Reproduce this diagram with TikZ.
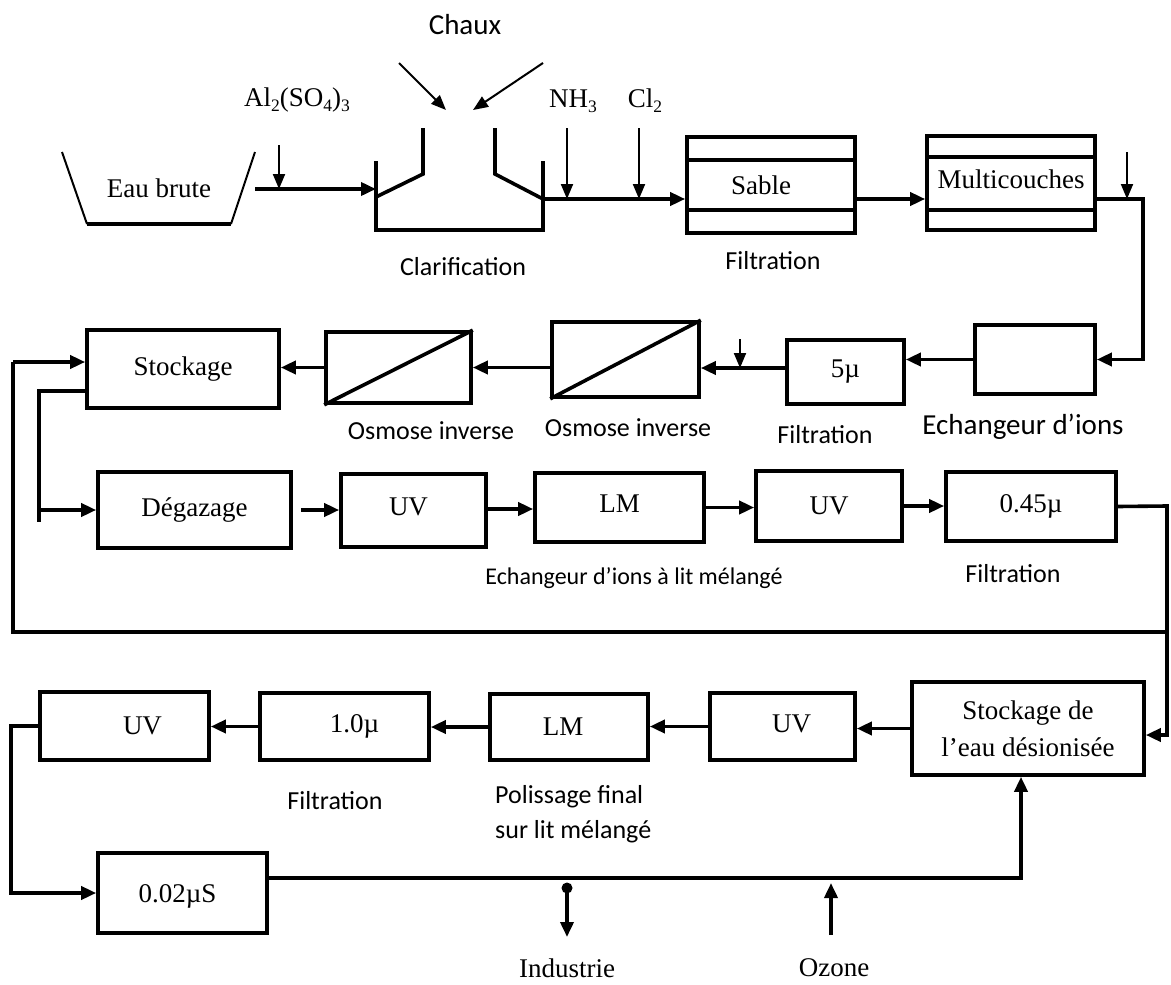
\documentclass[tikz,border=0pt]{standalone}
\usepackage{fontspec}
\setmainfont{Liberation Serif}
\newfontfamily\calfont{Carlito}
\usetikzlibrary{arrows.meta}
\newcommand{\chemsub}[1]{\raisebox{-5pt}{\fontsize{17.5}{17.5}\selectfont #1}}
\begin{document}
\begin{tikzpicture}[x=1pt,y=-1pt,
  tk/.style={line width=3.6pt},
  tn/.style={line width=2pt},
  arr/.style={tk,-{Triangle[length=15pt,width=13pt]}},
  tarr/.style={tn,-{Triangle[length=15pt,width=12pt]}},
  tx/.style={font=\fontsize{27}{32}\selectfont,inner sep=0pt},
  box/.style={draw,tk,inner sep=0pt,font=\fontsize{27}{32}\selectfont},
  lab/.style={font=\calfont\fontsize{26}{31}\selectfont,inner sep=0pt},
  labbig/.style={font=\calfont\fontsize{29}{35}\selectfont,inner sep=0pt},
]
\useasboundingbox (0,0) rectangle (1171,985);

% ---- Eau brute basin
\draw[tn] (62,152) -- (87,224);
\draw[tk] (87,224) -- (231,224);
\draw[tn] (231,224) -- (255,152);
\node[tx] (eau) at (159,188) {Eau brute};
\coordinate (eauout) at (255,189);

% ---- Al2(SO4)3
\node[tx] (al) at (297,100) {Al\chemsub{2}(SO\chemsub{4})\chemsub{3}};
\coordinate (alt) at (279,145);

% ---- Clarifier
\draw[tk] (376,161) -- (376,232);
\draw[tk] (374.2,230) -- (544.8,230);
\draw[tk] (543,161) -- (543,232);
\draw[tk] (376,197) -- (423,174) -- (423,128);
\draw[tk] (495,128) -- (495,174) -- (543,199);
\coordinate (clin) at (376,189);
\coordinate (clout) at (543,199);
\draw[arr] (eauout) -- (clin);
\draw[tarr] (alt) -- (alt |- eauout);
\node[lab] (clar) at (463,267) {Clarification};

% ---- Chaux
\node[labbig] (chaux) at (465,25) {Chaux};
\coordinate (ch1) at (399,63);
\coordinate (ch1e) at (446,110);
\coordinate (ch2) at (543,63);
\coordinate (ch2e) at (473,110);
\draw[tarr] (ch1) -- (ch1e);
\draw[tarr] (ch2) -- (ch2e);

% ---- NH3, Cl2
\node[tx] (nh3) at (573,101) {NH\chemsub{3}};
\node[tx] (cl2) at (645,101) {Cl\chemsub{2}};
\coordinate (nht) at (567,128);
\coordinate (clt) at (639,128);

% ---- Sable filter
\node[box,minimum width=168pt,minimum height=96pt,
      label={[tx,xshift=-10pt]center:Sable}] (sable) at (771,185) {};
\draw[tk] (sable.west |- 0,160) -- (sable.east |- 0,160);
\draw[tk] (sable.west |- 0,210) -- (sable.east |- 0,210);
\draw[arr] (clout) -- (clout -| sable.west);
\draw[tarr] (nht) -- (nht |- clout);
\draw[tarr] (clt) -- (clt |- clout);
\node[lab] (f1) at (773,261) {Filtration};

% ---- Multicouches
\node[box,minimum width=168pt,minimum height=94pt,
      label={[tx,yshift=4pt]center:Multicouches}] (multi) at (1011,183) {};
\draw[tk] (multi.west |- 0,157) -- (multi.east |- 0,157);
\draw[tk] (multi.west |- 0,210) -- (multi.east |- 0,210);
\draw[arr] (sable.east |- clout) -- (multi.west |- clout);

% ---- Echangeur d'ions
\node[box,minimum width=120pt,minimum height=69pt] (ech) at (1035,359.5) {};
\node[labbig] (echl) at (1023,427) {Echangeur d’ions};
\coordinate (rc) at (1143,199);
\draw[arr] (multi.east |- clout) -- (rc) |- (ech.east);
\coordinate (mt) at (1127,152);
\draw[tarr] (mt) -- (mt |- clout);

% ---- 5 micron
\node[box,minimum width=117pt,minimum height=64pt] (fiv) at (845.5,372) {5µ};
\node[lab] (f2) at (825,435) {Filtration};
\draw[arr] (ech.west) -- (ech.west -| fiv.east);

% ---- Osmose inverse 2
\node[box,minimum width=147pt,minimum height=75pt] (osm2) at (625.5,359.5) {};
\draw[tk] (osm2.south west) -- (osm2.north east);
\node[lab] (o2l) at (628,428) {Osmose inverse};
\coordinate (r2) at (0,368);
\draw[arr] (fiv.west |- r2) -- (osm2.east |- r2);
\coordinate (st) at (740,339);
\draw[tarr] (st) -- (st |- r2);

% ---- Osmose inverse 1
\node[box,minimum width=145pt,minimum height=71pt] (osm1) at (398.5,367.5) {};
\draw[tk] (osm1.south west) -- (osm1.north east);
\node[lab] (o1l) at (431,431) {Osmose inverse};
\draw[arr] (osm2.west |- osm1.east) -- (osm1.east);

% ---- Stockage
\node[box,minimum width=192pt,minimum height=78pt] (stock) at (183,369) {Stockage};
\draw[arr] (osm1.west) -- (osm1.west -| stock.east);

% ---- Row 3
\node[box,minimum width=193pt,minimum height=76pt] (deg) at (194.5,510) {Dégazage};
\node[box,minimum width=145pt,minimum height=73pt,
      label={[tx,xshift=-5pt,yshift=4pt]center:UV}] (uv1) at (413.5,510.5) {};
\node[box,minimum width=169pt,minimum height=69pt,
      label={[tx,yshift=4pt]center:LM}] (lm1) at (619.5,507.5) {};
\node[box,minimum width=146pt,minimum height=70pt] (uv2) at (829,506) {UV};
\node[box,minimum width=170pt,minimum height=69pt] (f45) at (1031,506.5) {0.45µ};
\node[font=\calfont\fontsize{24}{29}\selectfont,inner sep=0pt] (lml) at (634,578) {Echangeur d’ions à lit mélangé};
\node[lab] (f3) at (1013,574) {Filtration};

\draw[arr] ([xshift=8pt]deg.east) -- (deg.east -| uv1.west);
\draw[arr] (uv1.east |- 0,509) -- (lm1.west |- 0,509);
\draw[arr] (lm1.east) -- (lm1.east -| uv2.west);
\draw[arr] (uv2.east) -- (uv2.east -| f45.west);

% ---- Stockage -> Degazage
\coordinate (sd) at (39,391);
\coordinate (sd2) at (39,522);
\draw[tk] (stock.west |- sd) -- (sd) -- (sd2);
\draw[arr] (sd |- deg.west) -- (deg.west);

% ---- recycle loop
\coordinate (fl) at (13,362);
\coordinate (fb) at (13,632);
\coordinate (fr) at (1167,632);
\draw[tk] (fr) -- (fb) -- (fl);
\draw[arr] (fl) -- (fl -| stock.west);

% ---- Row 4
\node[box,minimum width=232pt,minimum height=93pt,align=center,
      font=\fontsize{27}{37}\selectfont] (stodi) at (1028,728.5) {Stockage de\\l’eau désionisée};
\node[box,minimum width=145pt,minimum height=67pt,
      label={[tx,xshift=9pt,yshift=3pt]center:UV}] (uv3) at (782.5,726.5) {};
\node[box,minimum width=158pt,minimum height=66pt,
      label={[tx,xshift=-6pt]center:LM}] (lm2) at (569,727) {};
\node[box,minimum width=169pt,minimum height=67pt,
      label={[tx,xshift=10pt]center:1.0µ}] (ten) at (344.5,726.5) {};
\node[box,minimum width=169pt,minimum height=68pt,
      label={[tx,xshift=18pt]center:UV}] (uv4) at (124.5,726) {};
\node[lab] (f4) at (335,801) {Filtration};
\node[lab,align=left,anchor=north west,
      font=\calfont\fontsize{26}{35}\selectfont] (pol) at (495,785) {Polissage final\\sur lit mélangé};

\coordinate (rr) at (1167,506);
\coordinate (rb) at (1167,735);
\draw[arr] (f45.east) -- (rr) -- (rb) -- (rb -| stodi.east);
\draw[arr] (stodi.west) -- (stodi.west -| uv3.east);
\draw[arr] (uv3.west) -- (uv3.west -| lm2.east);
\draw[arr] (lm2.west) -- (lm2.west -| ten.east);
\draw[arr] (ten.west) -- (ten.west -| uv4.east);

% ---- Row 5
\node[box,minimum width=169pt,minimum height=80pt,
      label={[tx,xshift=-5pt,yshift=-3pt]center:0.02µS}] (s002) at (182.5,893) {};
\coordinate (lb) at (11,893);
\draw[arr] (uv4.west) -- (uv4.west -| lb) -- (lb) -- (lb -| s002.west);
\coordinate (bc) at (1021,878);
\draw[arr] (s002.east |- bc) -- (bc) -- (bc |- stodi.south);

% ---- Industrie / Ozone
\coordinate (ind) at (567,888);
\coordinate (indend) at (567,937);
\fill (ind) circle (5.5pt);
\draw[arr] (ind) -- (indend);
\node[tx] (indl) at (567,968) {Industrie};
\coordinate (ozs) at (831,935);
\coordinate (ozt) at (831,883);
\draw[arr] (ozs) -- (ozt);
\node[tx] (oz) at (834,968) {Ozone};
\end{tikzpicture}
\end{document}
